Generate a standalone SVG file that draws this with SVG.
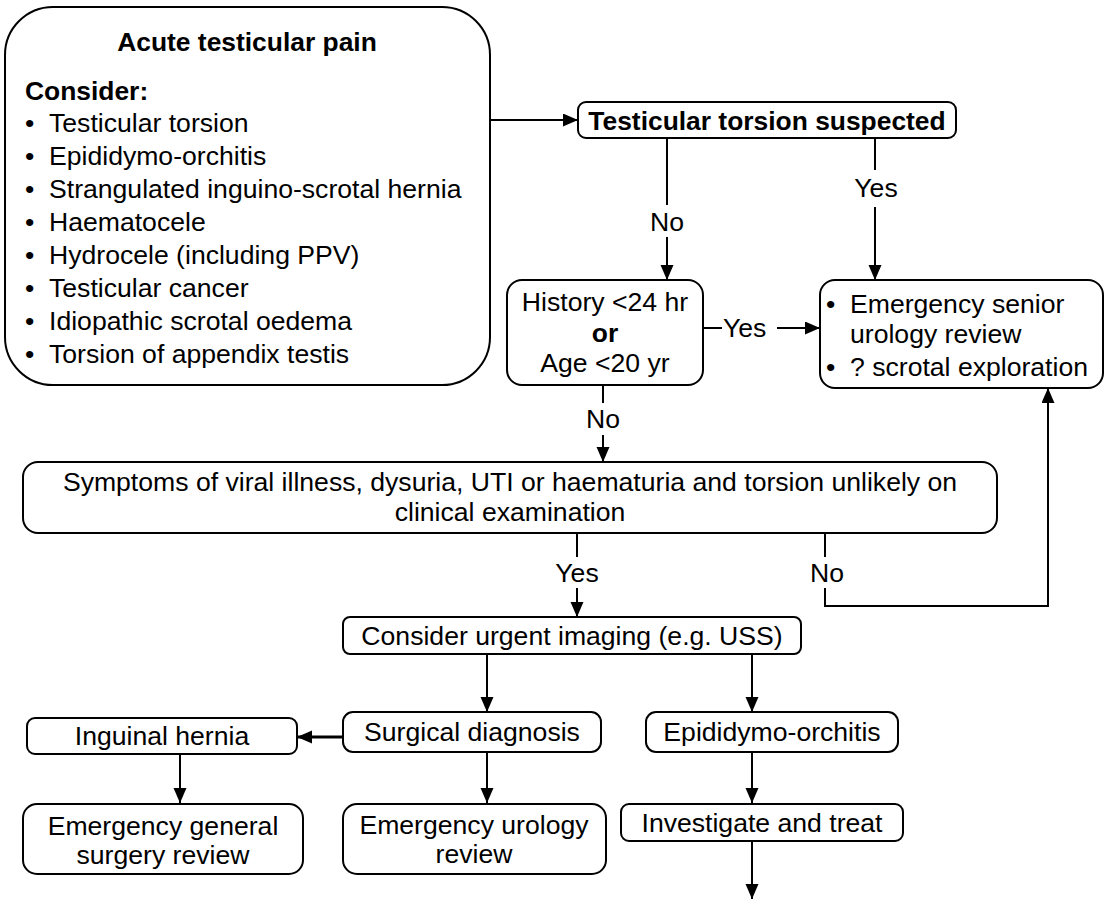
<svg xmlns="http://www.w3.org/2000/svg" width="1106" height="899" viewBox="0 0 1106 899">
<defs>
<marker id="ah" markerUnits="userSpaceOnUse" markerWidth="16" markerHeight="14" refX="15" refY="6.5" orient="auto">
<path d="M0,0 L15,6.5 L0,13 z" fill="#000"/>
</marker>
<style>
.box{fill:#fff;stroke:#000;stroke-width:2}
.t{font-family:"Liberation Sans",Arial,sans-serif;font-size:26.6px;fill:#000}
.b{font-weight:bold;font-size:26.4px}
.m{text-anchor:middle}
.c{fill:none;stroke:#000;stroke-width:2}
.a{marker-end:url(#ah)}
</style>
</defs>
<rect width="1106" height="899" fill="#fff"/>

<g id="connectors">
<path class="c a" d="M490,120 H578"/>
<path class="c" d="M667,138 V205"/>
<path class="c a" d="M667,237 V280"/>
<path class="c" d="M875,138 V170"/>
<path class="c a" d="M875,207 V280"/>
<path class="c" d="M703,328 H722"/>
<path class="c a" d="M777,328 H820"/>
<path class="c" d="M603,385 V403"/>
<path class="c a" d="M603,435 V462"/>
<path class="c" d="M577,533 V557"/>
<path class="c a" d="M577,588 V617"/>
<path class="c" d="M825,533 V557"/>
<path class="c a" d="M825,588 V606 H1048 V388"/>
<path class="c a" d="M487,654 V712"/>
<path class="c a" d="M752,654 V712"/>
<path class="c a" d="M343,737 H297" style="stroke-width:3"/>
<path class="c a" d="M180,754 V803"/>
<path class="c a" d="M487,752 V803"/>
<path class="c a" d="M752,752 V803"/>
<path class="c a" d="M752,841 V899"/>
<text class="t m" x="667" y="231">No</text>
<text class="t m" x="876" y="197">Yes</text>
<text class="t" x="723" y="337">Yes</text>
<text class="t m" x="603" y="428">No</text>
<text class="t m" x="577" y="582">Yes</text>
<text class="t m" x="827" y="582">No</text>
</g>

<g id="acute">
<rect class="box" x="5" y="7" width="485" height="378" rx="48" ry="48"/>
<text class="t b m" x="247" y="51">Acute testicular pain</text>
<text class="t b" x="25" y="100">Consider:</text>
<g class="t">
<text x="25" y="132">•</text><text x="49" y="132">Testicular torsion</text>
<text x="25" y="165">•</text><text x="49" y="165">Epididymo-orchitis</text>
<text x="25" y="198">•</text><text x="49" y="198">Strangulated inguino-scrotal hernia</text>
<text x="25" y="231">•</text><text x="49" y="231">Haematocele</text>
<text x="25" y="264">•</text><text x="49" y="264">Hydrocele (including PPV)</text>
<text x="25" y="297">•</text><text x="49" y="297">Testicular cancer</text>
<text x="25" y="330">•</text><text x="49" y="330">Idiopathic scrotal oedema</text>
<text x="25" y="363">•</text><text x="49" y="363">Torsion of appendix testis</text>
</g>
</g>

<g id="suspected">
<rect class="box" x="578" y="102" width="378" height="36" rx="8" ry="8"/>
<text class="t b m" x="767" y="130">Testicular torsion suspected</text>
</g>

<g id="history">
<rect class="box" x="507" y="280" width="196" height="105" rx="15" ry="15"/>
<text class="t m" x="605" y="311">History &lt;24 hr</text>
<text class="t b m" x="605" y="342">or</text>
<text class="t m" x="605" y="372">Age &lt;20 yr</text>
</g>

<g id="emergency-senior">
<rect class="box" x="820" y="280" width="283" height="108" rx="15" ry="15"/>
<text class="t" x="826" y="313">•</text><text class="t" x="850" y="313">Emergency senior</text>
<text class="t" x="850" y="343">urology review</text>
<text class="t" x="826" y="376">•</text><text class="t" x="850" y="376">? scrotal exploration</text>
</g>

<g id="symptoms">
<rect class="box" x="23" y="462" width="974" height="71" rx="15" ry="15"/>
<text class="t m" x="510" y="491">Symptoms of viral illness, dysuria, UTI or haematuria and torsion unlikely on</text>
<text class="t m" x="510" y="521">clinical examination</text>
</g>

<g id="imaging">
<rect class="box" x="343" y="617" width="458" height="37" rx="7" ry="7"/>
<text class="t m" x="572" y="645">Consider urgent imaging (e.g. USS)</text>
</g>

<g id="surgical">
<rect class="box" x="343" y="712" width="258" height="40" rx="10" ry="10"/>
<text class="t m" x="472" y="741">Surgical diagnosis</text>
</g>

<g id="epididymo">
<rect class="box" x="646" y="712" width="252" height="40" rx="10" ry="10"/>
<text class="t m" x="772" y="741">Epididymo-orchitis</text>
</g>

<g id="hernia">
<rect class="box" x="27" y="718" width="270" height="36" rx="8" ry="8"/>
<text class="t m" x="162" y="745">Inguinal hernia</text>
</g>

<g id="general-surgery">
<rect class="box" x="23" y="804" width="280" height="70" rx="14" ry="14"/>
<text class="t m" x="163" y="835">Emergency general</text>
<text class="t m" x="163" y="864">surgery review</text>
</g>

<g id="urology">
<rect class="box" x="343" y="804" width="263" height="70" rx="14" ry="14"/>
<text class="t m" x="474" y="834">Emergency urology</text>
<text class="t m" x="474" y="863">review</text>
</g>

<g id="investigate">
<rect class="box" x="621" y="804" width="282" height="37" rx="8" ry="8"/>
<text class="t m" x="762" y="832">Investigate and treat</text>
</g>
</svg>
